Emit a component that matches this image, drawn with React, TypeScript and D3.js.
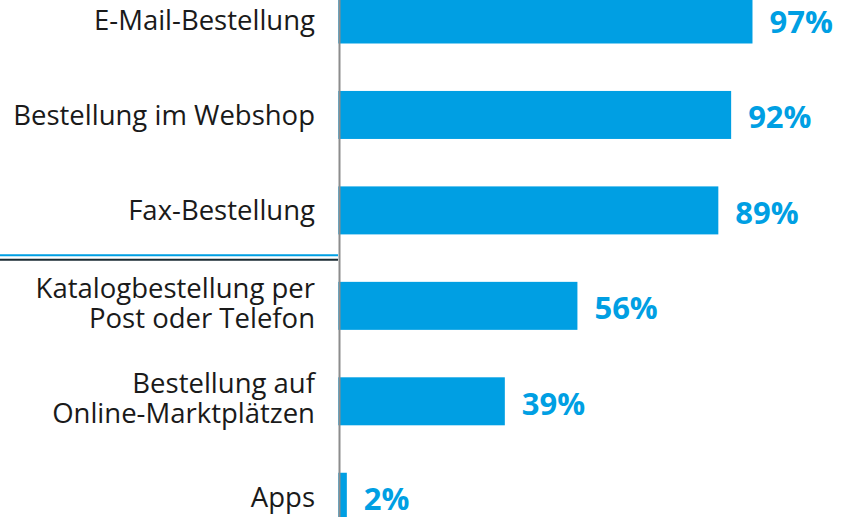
import React from "react";
import * as d3 from "d3";

const categories: string[][] = [
  ["E-Mail-Bestellung"],
  ["Bestellung im Webshop"],
  ["Fax-Bestellung"],
  ["Katalogbestellung per", "Post oder Telefon"],
  ["Bestellung auf", "Online-Marktplätzen"],
  ["Apps"],
];
const values: number[] = [97, 92, 89, 56, 39, 2];
const valueLabels: string[] = ["97%", "92%", "89%", "56%", "39%", "2%"];

const W = 852;
const H = 517;
const BLUE = "#009fe3";

export default function App() {
  const x = d3.scaleLinear().domain([0, 100]).range([338.3, 765.3]);
  const pitch = 95.45;
  const top0 = -4.5;
  const y = d3
    .scaleBand<number>()
    .domain(d3.range(values.length))
    .range([top0 - (pitch - 48) / 2, top0 - (pitch - 48) / 2 + pitch * values.length])
    .paddingInner((pitch - 48) / pitch)
    .paddingOuter((pitch - 48) / pitch / 2);
  const bw = y.bandwidth();
  const fontFamily = "'Open Sans', 'Noto Sans', sans-serif";
  const sepY = (y(2)! + bw / 2 + y(3)! + bw / 2) / 2;
  return (
    <svg
      width={W}
      height={H}
      style={{ position: "absolute", left: 0, top: 0, display: "block" }}
    >
      <rect width={W} height={H} fill="#fff" />
      {values.map((v, i) => (
        <rect key={i} x={x(0)} y={y(i)} width={x(v) - x(0)} height={bw} fill={BLUE} />
      ))}
      <line x1={339.5} x2={339.5} y1={0} y2={H} stroke="#8c8c8c" strokeWidth={2} />
      <line x1={0} x2={338} y1={sepY - 3} y2={sepY - 3} stroke={BLUE} strokeWidth={2} />
      <line x1={0} x2={338} y1={sepY + 1.5} y2={sepY + 1.5} stroke="#1b2b33" strokeWidth={2} />
      {categories.map((lines, i) => {
        const cy = y(i)! + bw / 2;
        const lh = 30;
        const start = lines.length === 1 ? cy + 10 : cy - 8;
        return (
          <text
            key={i}
            textAnchor="end"
            fontFamily={fontFamily}
            fontSize={27.5}
            fill="#1a1a1a"
          >
            {lines.map((l, j) => (
              <tspan key={j} x={315} y={start + j * lh}>
                {l}
              </tspan>
            ))}
          </text>
        );
      })}
      {values.map((v, i) => (
        <text
          key={i}
          x={x(v) + 17}
          y={y(i)! + bw / 2 + 13.5}
          fontFamily={fontFamily}
          fontWeight={700}
          fontSize={31}
          fill={BLUE}
        >
          {valueLabels[i]}
        </text>
      ))}
    </svg>
  );
}
